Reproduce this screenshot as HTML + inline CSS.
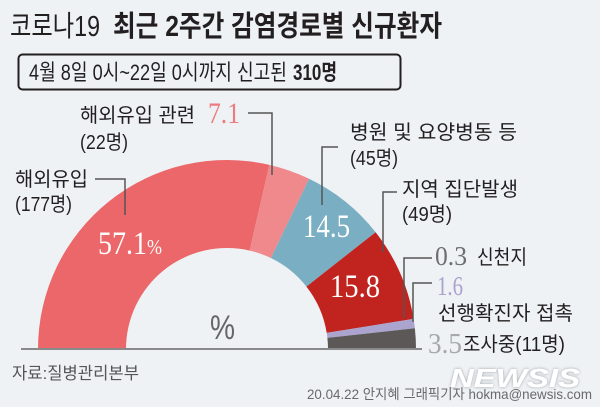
<!DOCTYPE html>
<html><head><meta charset="utf-8">
<style>
html,body{margin:0;padding:0;background:#eef2f5;}
svg{display:block;}
.k{font-family:"Liberation Sans","Noto Sans CJK KR",sans-serif;fill:#231f20;}
.s{font-family:"Liberation Serif",serif;}
</style></head>
<body>
<svg width="600" height="407" viewBox="0 0 600 407" xmlns="http://www.w3.org/2000/svg">
<defs>
<filter id="sh" x="-20%" y="-40%" width="140%" height="180%">
<feGaussianBlur in="SourceAlpha" stdDeviation="1.6"/>
<feComponentTransfer><feFuncA type="linear" slope="0.35"/></feComponentTransfer>
<feMerge><feMergeNode/><feMergeNode in="SourceGraphic"/></feMerge>
</filter>
</defs>
<rect width="600" height="407" fill="#eef2f5"/>

<!-- Title -->
<text class="k" x="10" y="36" font-size="29" font-weight="400" textLength="90" lengthAdjust="spacingAndGlyphs">코로나19</text>
<text class="k" x="113" y="36" font-size="29" font-weight="700" textLength="329" lengthAdjust="spacingAndGlyphs">최근 2주간 감염경로별 신규환자</text>

<!-- Subtitle box -->
<rect x="18.5" y="54.5" width="382" height="35" rx="4" ry="4" fill="none" stroke="#231f20" stroke-width="2"/>
<text class="k" x="29" y="80" font-size="22" textLength="258" lengthAdjust="spacingAndGlyphs">4월 8일 0시~22일 0시까지 신고된</text>
<text class="k" x="293" y="80" font-size="22" font-weight="700" textLength="44" lengthAdjust="spacingAndGlyphs">310명</text>

<!-- Donut -->
<path d="M38,349 A189,189 0 0 1 269.39,164.82 L249.65,250.58 A101,101 0 0 0 126,349 Z" fill="#ec6769"/>
<path d="M269.39,164.82 A189,189 0 0 1 309.08,178.75 L270.86,258.02 A101,101 0 0 0 249.65,250.58 Z" fill="#ef898c"/>
<path d="M309.08,178.75 A189,189 0 0 1 375.61,232.22 L306.42,286.59 A101,101 0 0 0 270.86,258.02 Z" fill="#7aafc3"/>
<path d="M375.61,232.22 A189,189 0 0 1 413.58,318.85 L326.71,332.89 A101,101 0 0 0 306.42,286.59 Z" fill="#c1231f"/>
<path d="M413.58,318.85 A189,189 0 0 1 414.87,328.26 L327.39,337.92 A101,101 0 0 0 326.71,332.89 Z" fill="#aaa4cf"/>
<path d="M414.87,328.26 A189,189 0 0 1 416,349 L328,349 A101,101 0 0 0 327.39,337.92 Z" fill="#5b5857"/>

<!-- baseline -->
<line x1="21" y1="349" x2="422" y2="349" stroke="#8a8a8a" stroke-width="2"/>

<!-- leader lines -->
<g fill="none" stroke="#555" stroke-width="1.5">
<polyline points="248,113 272,113 272,175"/>
<polyline points="95,179 125,179 125,215"/>
<polyline points="338,147 322,147 322,205"/>
<polyline points="397,192 383,192 383,252"/>
<polyline points="432,258 404,258 404,318"/>
<polyline points="432,283 413,283 413,322"/>
</g>

<!-- Labels left -->
<text class="k" x="80" y="122" font-size="20" textLength="115" lengthAdjust="spacingAndGlyphs">해외유입 관련</text>
<text class="s" x="208" y="123" font-size="30" fill="#ec7a80" textLength="32" lengthAdjust="spacingAndGlyphs">7.1</text>
<text class="k" x="80" y="149" font-size="20" textLength="48" lengthAdjust="spacingAndGlyphs">(22명)</text>
<text class="k" x="15" y="186" font-size="20" textLength="73" lengthAdjust="spacingAndGlyphs">해외유입</text>
<text class="k" x="15" y="211" font-size="20" textLength="57" lengthAdjust="spacingAndGlyphs">(177명)</text>
<text class="s" x="98" y="254" font-size="33" fill="#fff" textLength="49" lengthAdjust="spacingAndGlyphs">57.1</text>
<text class="s" x="147" y="254" font-size="21" fill="#fff" textLength="15" lengthAdjust="spacingAndGlyphs">%</text>

<!-- Labels right -->
<text class="k" x="350" y="139" font-size="20" textLength="167" lengthAdjust="spacingAndGlyphs">병원 및 요양병동 등</text>
<text class="k" x="350" y="165" font-size="20" textLength="48" lengthAdjust="spacingAndGlyphs">(45명)</text>
<text class="s" x="303" y="237" font-size="33" fill="#fff" textLength="47" lengthAdjust="spacingAndGlyphs">14.5</text>

<text class="k" x="402" y="196" font-size="20" textLength="116" lengthAdjust="spacingAndGlyphs">지역 집단발생</text>
<text class="k" x="402" y="221" font-size="20" textLength="50" lengthAdjust="spacingAndGlyphs">(49명)</text>
<text class="s" x="330" y="297" font-size="33" fill="#fff" textLength="50" lengthAdjust="spacingAndGlyphs">15.8</text>

<text class="s" x="435" y="265" font-size="27" fill="#6d6e70" textLength="32" lengthAdjust="spacingAndGlyphs">0.3</text>
<text class="k" x="477" y="264" font-size="20" textLength="50" lengthAdjust="spacingAndGlyphs">신천지</text>

<text class="s" x="437" y="295" font-size="27" fill="#a8a2cd" textLength="26" lengthAdjust="spacingAndGlyphs">1.6</text>
<text class="k" x="438" y="320" font-size="20" textLength="135" lengthAdjust="spacingAndGlyphs">선행확진자 접촉</text>

<text class="s" x="428" y="353" font-size="28" fill="#a6a8aa" textLength="34" lengthAdjust="spacingAndGlyphs">3.5</text>
<text class="k" x="463" y="351" font-size="20" textLength="102" lengthAdjust="spacingAndGlyphs">조사중(11명)</text>

<!-- center % -->
<text x="210" y="339" font-family="Liberation Sans, sans-serif" font-size="34" fill="#666" textLength="25" lengthAdjust="spacingAndGlyphs">%</text>

<!-- source -->
<text class="k" x="12" y="379" font-size="17" style="fill:#555" textLength="127" lengthAdjust="spacingAndGlyphs">자료:질병관리본부</text>

<!-- watermark -->
<text x="450" y="387" font-family="Liberation Sans, sans-serif" font-size="26" font-weight="700" font-style="italic" fill="#ffffff" filter="url(#sh)" textLength="130" lengthAdjust="spacingAndGlyphs">NEWSIS</text>

<!-- footer -->
<text class="k" x="307" y="399" font-size="14" style="fill:#6a6a6a" textLength="285" lengthAdjust="spacingAndGlyphs">20.04.22 안지혜 그래픽기자 hokma@newsis.com</text>
</svg>
</body></html>
